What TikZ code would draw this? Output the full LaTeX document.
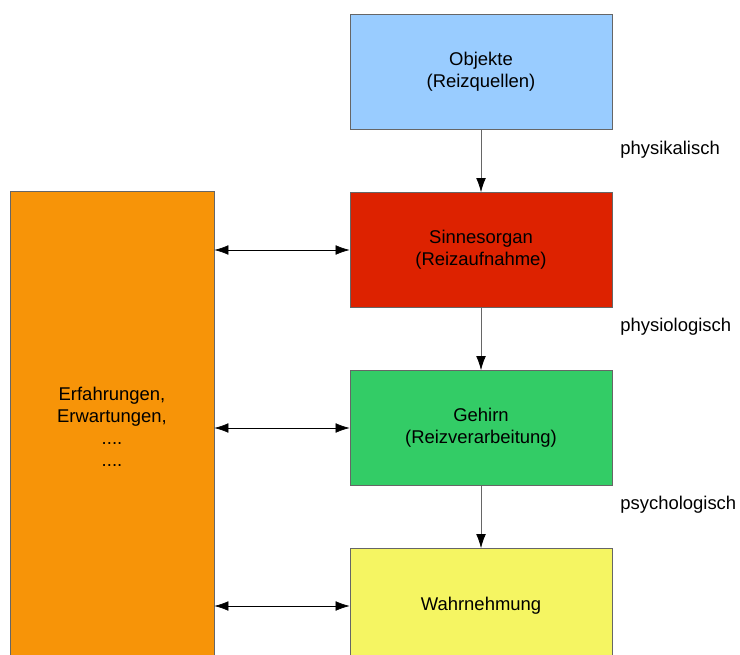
\documentclass[tikz,border=0pt]{standalone}
\usepackage{fontspec}
\setmainfont{Liberation Sans}
\usetikzlibrary{arrows.meta}
\definecolor{bleuclair}{RGB}{153,204,255}
\definecolor{rouge}{RGB}{221,34,0}
\definecolor{vert}{RGB}{51,204,102}
\definecolor{jaune}{RGB}{245,245,98}
\definecolor{orange}{RGB}{247,148,8}
\begin{document}
\begin{tikzpicture}[x=0.02cm,y=-0.02cm]
			% Styles (MODIFIABLES)
			\tikzstyle{boite}=[draw=black!60,thin,minimum width=5.24cm,minimum height=2.3cm,align=center,font=\fontsize{10.5}{12.5}\selectfont]
			\tikzstyle{fleche}=[->,>={Latex[length=8pt,width=5.5pt,black]},thin,draw=black!60]
			\tikzstyle{doublefleche}=[<->,>={Latex[length=8pt,width=5.5pt]},thin,black]
			\tikzstyle{commentaire}=[anchor=west,inner sep=0pt,font=\fontsize{10.5}{12.5}\selectfont]
			% Dimensions (MODIFIABLES)
			\def\Colonne{481}
			\def\DistanceInterNiveaux{178}
			% Dimensions calculées (NON MODIFIABLES)
			\def\NiveauA{72}
			\def\NiveauB{(\NiveauA+\DistanceInterNiveaux)}
			\def\NiveauC{(\NiveauA+2*\DistanceInterNiveaux)}
			\def\NiveauD{(\NiveauA+3*\DistanceInterNiveaux)}
			% Cadre
			\clip (0,0) rectangle (740,655);
			% Noeuds
			\node[boite,fill=bleuclair] (O) at ({\Colonne},{\NiveauA}) {Objekte\\(Reizquellen)};
			\node[boite,fill=rouge] (S) at ({\Colonne},{\NiveauB}) {Sinnesorgan\\(Reizaufnahme)};
			\node[boite,fill=vert] (G) at ({\Colonne},{\NiveauC}) {Gehirn\\(Reizverarbeitung)};
			\node[boite,fill=jaune] (W) at ({\Colonne},{\NiveauD}) {Wahrnehmung};
			\node[boite,fill=orange,minimum width=4.08cm,minimum height=9.44cm] (E) at (112,427) {Erfahrungen,\\Erwartungen,\\....\\....};
			%
			\node[commentaire] (c1) at (620,150) {physikalisch};
			\node[commentaire] (c2) at (620,327) {physiologisch};
			\node[commentaire] (c3) at (620,505) {psychologisch};
			% Arcs
			\draw[fleche] (O.south)--(S.north);
			\draw[fleche] (S.south)--(G.north);
			\draw[fleche] (G.south)--(W.north);
			\draw[doublefleche] (E.east |- S.west)--(S.west);
			\draw[doublefleche] (E.east |- G.west)--(G.west);
			\draw[doublefleche] (E.east |- W.west)--(W.west);
		\end{tikzpicture}
\end{document}
